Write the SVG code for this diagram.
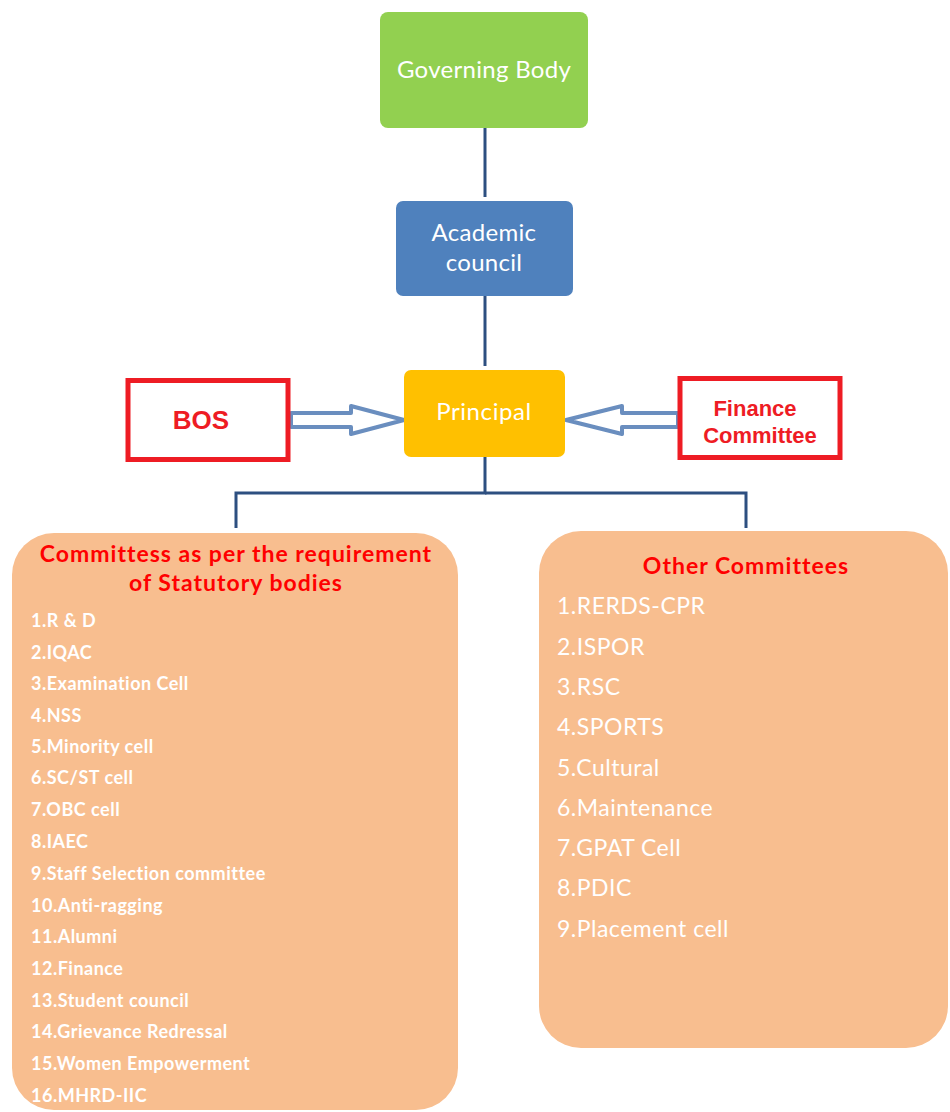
<svg xmlns="http://www.w3.org/2000/svg" width="950" height="1112" viewBox="0 0 950 1112">
<style>
.wt{fill:#ffffff;font-family:Lato,"Open Sans",sans-serif;}
.node{font-size:24px;text-anchor:middle;letter-spacing:0.3px;}
.red{fill:#ee1c24;font-family:"Liberation Sans",Arial,sans-serif;font-weight:bold;text-anchor:middle;}
.hd{fill:#ff0000;font-family:Lato,sans-serif;font-weight:bold;font-size:23px;letter-spacing:1px;text-anchor:middle;}
.li{font-size:18px;font-weight:bold;letter-spacing:0.5px;}
.ri{font-size:23px;letter-spacing:0.5px;}
.conn{stroke:#2d4f80;stroke-width:3;fill:none;}
.arr{stroke:#6a8ebf;stroke-width:4;fill:#ffffff;stroke-linejoin:round;}
</style>
<rect width="950" height="1112" fill="#ffffff"/>
<g id="connectors">
<line class="conn" x1="485" y1="128" x2="485" y2="197"/>
<line class="conn" x1="485" y1="296" x2="485" y2="366"/>
<polyline class="conn" points="485,457 485,493 236,493 236,528"/>
<polyline class="conn" points="485,493 746,493 746,528"/>
<polygon class="arr" points="291,413 351,413 351,406 404,420 351,434 351,427 291,427"/>
<polygon class="arr" points="678,413 622,413 622,406 566,420 622,434 622,427 678,427"/>
</g>
<g id="governing-body">
<rect x="380" y="12" width="208" height="116" rx="8" fill="#92d050"/>
<text class="wt node" x="484" y="78">Governing Body</text>
</g>
<g id="academic-council">
<rect x="396" y="201" width="177" height="95" rx="7" fill="#4f81bd"/>
<text class="wt node" x="484" y="241">Academic</text>
<text class="wt node" x="484" y="271">council</text>
</g>
<g id="principal">
<rect x="404" y="370" width="161" height="87" rx="7" fill="#ffc000"/>
<text class="wt node" x="484" y="420" style="letter-spacing:0.6px">Principal</text>
</g>
<g id="bos">
<rect x="128" y="380.5" width="160" height="79" fill="#ffffff" stroke="#ee1c24" stroke-width="5"/>
<text class="red" x="201" y="429" font-size="26">BOS</text>
</g>
<g id="finance-committee">
<rect x="680" y="378.5" width="160" height="79" fill="#ffffff" stroke="#ee1c24" stroke-width="5"/>
<text class="red" x="755" y="416" font-size="22">Finance</text>
<text class="red" x="760" y="443" font-size="22">Committee</text>
</g>
<g id="statutory-committees">
<rect x="12" y="533" width="446" height="577" rx="42" fill="#f8be8f"/>
<text class="hd" x="236" y="562">Committess as per the requirement</text>
<text class="hd" x="236" y="591">of Statutory bodies</text>
<text class="wt li" x="31" y="627">1.R &amp; D</text>
<text class="wt li" x="31" y="659">2.IQAC</text>
<text class="wt li" x="31" y="690">3.Examination Cell</text>
<text class="wt li" x="31" y="722">4.NSS</text>
<text class="wt li" x="31" y="753">5.Minority cell</text>
<text class="wt li" x="31" y="784">6.SC/ST cell</text>
<text class="wt li" x="31" y="816">7.OBC cell</text>
<text class="wt li" x="31" y="848">8.IAEC</text>
<text class="wt li" x="31" y="880">9.Staff Selection committee</text>
<text class="wt li" x="31" y="912">10.Anti-ragging</text>
<text class="wt li" x="31" y="943">11.Alumni</text>
<text class="wt li" x="31" y="975">12.Finance</text>
<text class="wt li" x="31" y="1007">13.Student council</text>
<text class="wt li" x="31" y="1038">14.Grievance Redressal</text>
<text class="wt li" x="31" y="1070">15.Women Empowerment</text>
<text class="wt li" x="31" y="1102">16.MHRD-IIC</text>
</g>
<g id="other-committees">
<rect x="539" y="531" width="409" height="517" rx="42" fill="#f8be8f"/>
<text class="hd" x="746" y="574">Other Committees</text>
<text class="wt ri" x="557" y="614">1.RERDS-CPR</text>
<text class="wt ri" x="557" y="655">2.ISPOR</text>
<text class="wt ri" x="557" y="695">3.RSC</text>
<text class="wt ri" x="557" y="735">4.SPORTS</text>
<text class="wt ri" x="557" y="776">5.Cultural</text>
<text class="wt ri" x="557" y="816">6.Maintenance</text>
<text class="wt ri" x="557" y="856">7.GPAT Cell</text>
<text class="wt ri" x="557" y="896">8.PDIC</text>
<text class="wt ri" x="557" y="937">9.Placement cell</text>
</g>
</svg>
